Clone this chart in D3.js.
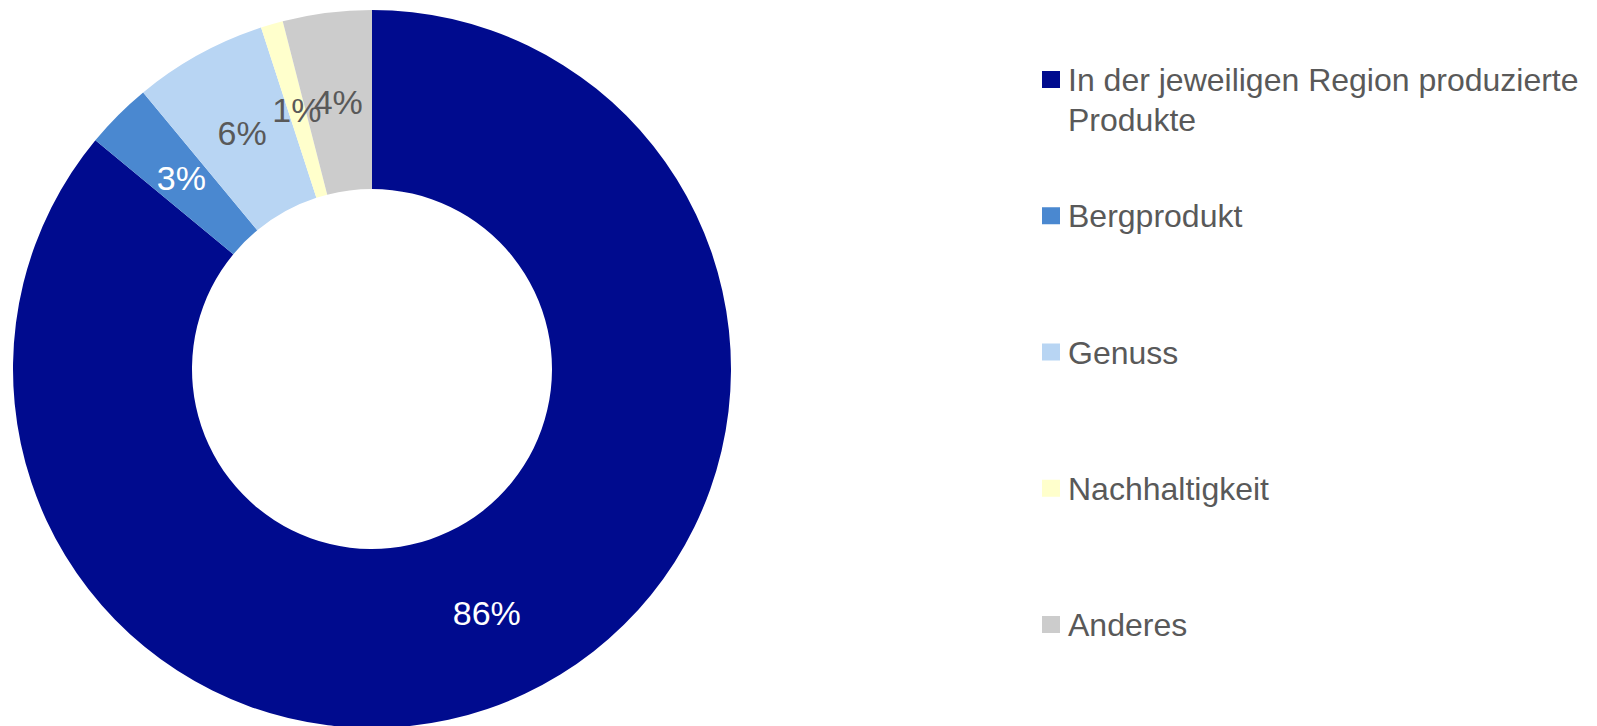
<html>
    <head>
        <meta http-equiv="Content-Type" content="text/html;charset=utf-8"/>
        <script type="text/javascript" src="https://d3js.org/d3.v7.min.js"></script>
        <style type="text/css">
        body { margin: 0; background: #fff; }
        text { font-family: "Liberation Sans", Arial, sans-serif; }
        </style>
    </head>
    <body>
        <div id="body"></div>
        <script type="text/javascript">

            var categories = ["In der jeweiligen Region produzierte Produkte", "Bergprodukt", "Genuss", "Nachhaltigkeit", "Anderes"];
            var legendLines = [["In der jeweiligen Region produzierte", "Produkte"], ["Bergprodukt"], ["Genuss"], ["Nachhaltigkeit"], ["Anderes"]];
            var values = [86, 3, 6, 1, 4];
            var colors = ["#000b8e", "#4a88d0", "#b8d5f3", "#ffffcc", "#cccccc"];
            var labelColors = ["#ffffff", "#ffffff", "#595959", "#595959", "#595959"];

            var w = 1597,
                h = 726,
                cx = 372,
                cy = 369,
                outerR = 359,
                innerR = 180;

            var svg = d3.select("#body").append("svg")
                .attr("width", w)
                .attr("height", h);

            var pie = d3.pie().sort(null).value(function(d) { return d; });
            var arc = d3.arc().innerRadius(innerR).outerRadius(outerR);

            var arcs = pie(values);

            var g = svg.append("g")
                .attr("transform", "translate(" + cx + "," + cy + ")");

            g.selectAll("path")
                .data(arcs)
                .enter().append("path")
                .attr("d", arc)
                .attr("fill", function(d, i) { return colors[i]; });

            g.selectAll("text.lbl")
                .data(arcs)
                .enter().append("text")
                .attr("class", "lbl")
                .attr("transform", function(d) { return "translate(" + arc.centroid(d) + ")"; })
                .attr("text-anchor", "middle")
                .attr("dy", ".35em")
                .style("font-size", "34px")
                .style("fill", function(d, i) { return labelColors[i]; })
                .text(function(d) { return d.data + "%"; });

            // legend
            var legendY = d3.scalePoint().domain(d3.range(categories.length)).range([80, 625]);

            var leg = svg.selectAll("g.legend")
                .data(categories)
                .enter().append("g")
                .attr("class", "legend")
                .attr("transform", function(d, i) { return "translate(1042," + legendY(i) + ")"; });

            leg.append("rect")
                .attr("x", 0)
                .attr("y", -9)
                .attr("width", 18)
                .attr("height", 17)
                .attr("fill", function(d, i) { return colors[i]; });

            leg.append("text")
                .style("font-size", "32px")
                .style("fill", "#595959")
                .selectAll("tspan")
                .data(function(d, i) { return legendLines[i]; })
                .enter().append("tspan")
                .attr("x", 26)
                .attr("y", function(d, j) { return j * 40; })
                .attr("dy", ".35em")
                .text(function(d) { return d; });

        </script>
    </body>
</html>
